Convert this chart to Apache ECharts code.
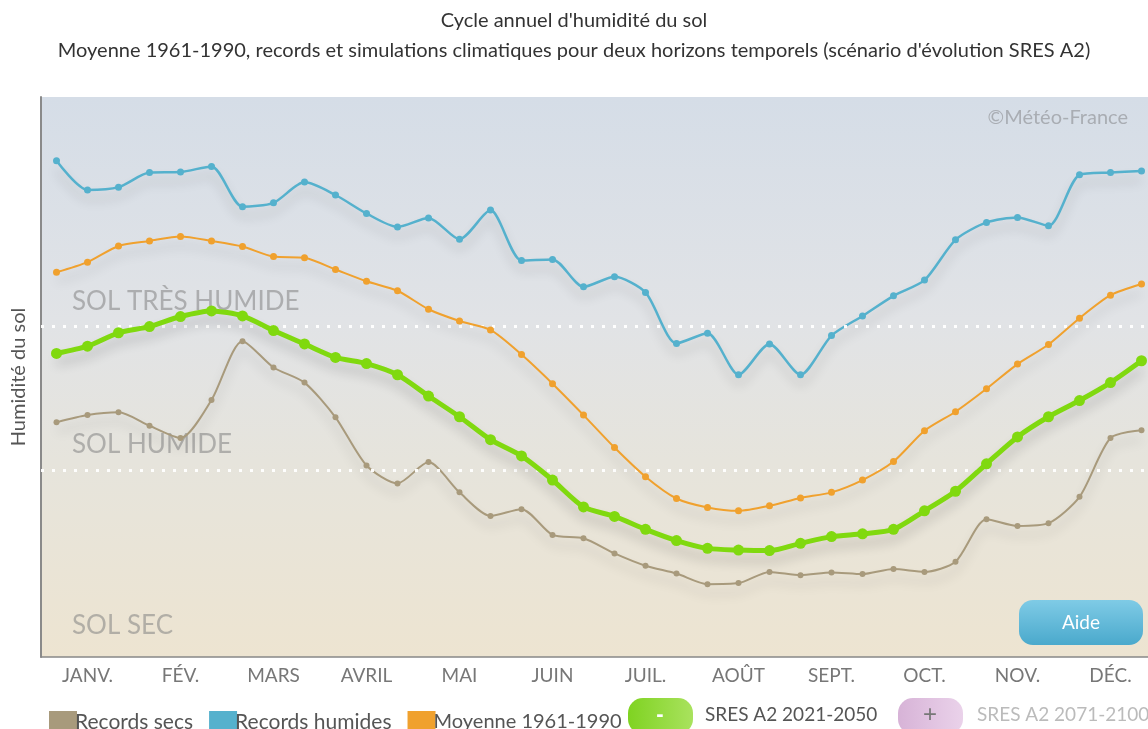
<!DOCTYPE html>
<html>
<head>
<meta charset="utf-8">
<script src="https://cdn.jsdelivr.net/npm/echarts@6/dist/echarts.min.js"></script>
<style>
  html, body { margin: 0; padding: 0; background: #fff; }
  #chart { width: 1148px; height: 729px; }
</style>
</head>
<body>
<div id="chart"></div>
<script>
// mois (3 décades par mois)
const months = ["JANV.", "FÉV.", "MARS", "AVRIL", "MAI", "JUIN", "JUIL.", "AOÛT", "SEPT.", "OCT.", "NOV.", "DÉC."];
const decades = [];
months.forEach(m => { for (let d = 1; d <= 3; d++) decades.push(m + "|" + d); });

const recordsSecs = [41.9, 43.2, 43.7, 41.3, 39.1, 45.9, 56.4, 51.7, 49.0, 42.8, 34.2, 31.0,
  34.8, 29.4, 25.2, 26.4, 21.8, 21.2, 18.5, 16.3, 14.9, 13.0, 13.2, 15.2,
  14.6, 15.1, 14.8, 15.7, 15.2, 17.0, 24.6, 23.4, 23.9, 28.6, 39.1, 40.5];
const recordsHumides = [88.6, 83.4, 83.9, 86.5, 86.6, 87.6, 80.4, 81.1, 84.8, 82.5, 79.2, 76.8,
  78.4, 74.6, 79.8, 70.8, 71.0, 66.1, 67.9, 65.1, 56.0, 57.8, 50.4, 55.9,
  50.4, 57.4, 60.9, 64.5, 67.3, 74.5, 77.6, 78.5, 77.0, 86.1, 86.5, 86.8];
const moyenne = [68.7, 70.5, 73.4, 74.3, 75.1, 74.3, 73.3, 71.5, 71.3, 69.2, 67.1, 65.4,
  62.1, 60.0, 58.4, 54.0, 48.8, 43.2, 37.4, 32.2, 28.3, 26.7, 26.1, 27.0,
  28.4, 29.4, 31.6, 34.9, 40.4, 43.8, 47.9, 52.3, 55.8, 60.5, 64.6, 66.6];
const sres2050 = [54.2, 55.5, 57.9, 59.0, 60.8, 61.8, 60.9, 58.3, 55.9, 53.5, 52.4, 50.4,
  46.6, 42.9, 38.8, 35.9, 31.6, 26.8, 25.1, 22.8, 20.8, 19.4, 19.1, 19.0,
  20.3, 21.5, 22.0, 22.8, 26.1, 29.6, 34.5, 39.3, 42.9, 45.8, 49.0, 52.9];
// seuils : sol très humide / sol humide
const seuils = [59.1, 33.4];

const chart = echarts.init(document.getElementById("chart"));

const shadow = {
  shadowColor: "rgba(0,0,0,0.2)",
  shadowBlur: 12,
  shadowOffsetY: 9
};

function lineSerie(name, data, color, width, symbolSize, z) {
  return {
    name: name,
    type: "line",
    data: data,
    smooth: 0.25,
    z: z,
    symbol: "circle",
    symbolSize: symbolSize,
    itemStyle: { color: color },
    lineStyle: Object.assign({ color: color, width: width }, shadow),
    emphasis: { disabled: true }
  };
}

const font = "Lato, 'Open Sans', sans-serif";
const soft = "rgba(130,130,130,0.55)";

const secs = lineSerie("Records secs", recordsSecs, "#a89a7c", 2, 6, 3);
secs.markLine = {
  silent: true,
  symbol: "none",
  label: { show: false },
  lineStyle: { color: "rgba(255,255,255,0.95)", width: 3, type: [3, 8], shadowBlur: 0 },
  data: seuils.map(v => ({ yAxis: v }))
};

const option = {
  animation: false,
  textStyle: { fontFamily: font },
  title: {
    text: "Cycle annuel d'humidité du sol",
    subtext: "Moyenne 1961-1990, records et simulations climatiques pour deux horizons temporels (scénario d'évolution SRES A2)",
    left: "center",
    top: 6,
    itemGap: 10,
    textStyle: { fontSize: 20, fontWeight: "normal", color: "#333", fontFamily: font },
    subtextStyle: { fontSize: 20, color: "#333", fontFamily: font }
  },
  legend: {
    data: [
      { name: "Records secs" },
      { name: "Records humides" },
      { name: "Moyenne 1961-1990", textStyle: { fontSize: 20 } }
    ],
    left: 44,
    top: 706,
    icon: "rect",
    itemWidth: 28,
    itemHeight: 22,
    itemGap: 16,
    textStyle: { fontSize: 21, color: "#555", padding: [0, 0, 0, -7] }
  },
  grid: {
    left: 41,
    top: 97,
    width: 1116,
    height: 560,
    outerBoundsMode: "none",
    show: true,
    borderWidth: 0,
    backgroundColor: {
      type: "linear", x: 0, y: 0, x2: 0, y2: 1,
      colorStops: [
        { offset: 0, color: "#d5dde7" },
        { offset: 0.4, color: "#e1e3e6" },
        { offset: 0.65, color: "#e6e4dc" },
        { offset: 1, color: "#ede4d1" }
      ]
    }
  },
  xAxis: {
    type: "category",
    data: decades,
    boundaryGap: true,
    axisLine: { lineStyle: { color: "#888", width: 1.5 } },
    axisTick: {
      length: 9,
      interval: i => i % 3 === 0,
      lineStyle: { color: "#777", width: 1.5 }
    },
    axisLabel: {
      interval: i => i % 3 === 1,
      formatter: v => v.split("|")[0],
      fontSize: 19,
      color: "#777",
      margin: 9
    },
    splitLine: { show: false }
  },
  yAxis: {
    type: "value",
    min: 0,
    max: 100,
    name: "Humidité du sol",
    nameLocation: "middle",
    nameGap: 12,
    nameTextStyle: { fontSize: 20, color: "#555" },
    axisLine: { show: true, lineStyle: { color: "#8a8a8a", width: 2 } },
    axisTick: { show: false },
    axisLabel: { show: false },
    splitLine: { show: false }
  },
  graphic: [
    { type: "text", z: 1, left: 72, top: 289, style: { text: "SOL TRÈS HUMIDE", fontSize: 26, fill: soft, fontFamily: font } },
    { type: "text", z: 1, left: 72, top: 432, style: { text: "SOL HUMIDE", fontSize: 26, fill: soft, fontFamily: font } },
    { type: "text", z: 1, left: 72, top: 613, style: { text: "SOL SEC", fontSize: 26, fill: soft, fontFamily: font } },
    { type: "text", z: 1, right: 20, top: 108, style: { text: "©Météo-France", fontSize: 20, fill: "#a9adb3", fontFamily: font } },
    {
      type: "group", left: 1019, top: 600, z: 10,
      children: [
        { type: "rect", shape: { x: 0, y: 0, width: 124, height: 45, r: 14 },
          style: { fill: { type: "linear", x: 0, y: 0, x2: 0, y2: 1, colorStops: [{ offset: 0, color: "#7fcbe6" }, { offset: 1, color: "#4aa9cc" }] } } },
        { type: "text", style: { text: "Aide", x: 62, y: 23, align: "center", verticalAlign: "middle", fontSize: 19, fill: "#fff", fontFamily: font } }
      ]
    },
    {
      type: "group", left: 628, top: 698, z: 10,
      children: [
        { type: "rect", shape: { x: 0, y: 0, width: 65, height: 36, r: 15 },
          style: { fill: { type: "linear", x: 0, y: 0, x2: 1, y2: 0, colorStops: [{ offset: 0, color: "#7fd321" }, { offset: 1, color: "#a9e25e" }] } } },
        { type: "text", style: { text: "-", x: 32, y: 17, align: "center", verticalAlign: "middle", fontSize: 22, fontWeight: "bold", fill: "#fff" } }
      ]
    },
    { type: "text", z: 10, left: 705, top: 705, style: { text: "SRES A2 2021-2050", fontSize: 19, fill: "#555", fontFamily: font } },
    {
      type: "group", left: 898, top: 698, z: 10,
      children: [
        { type: "rect", shape: { x: 0, y: 0, width: 65, height: 36, r: 15 },
          style: { fill: { type: "linear", x: 0, y: 0, x2: 1, y2: 0, colorStops: [{ offset: 0, color: "#d7b3d7" }, { offset: 1, color: "#ead2ea" }] } } },
        { type: "text", style: { text: "+", x: 32, y: 17, align: "center", verticalAlign: "middle", fontSize: 24, fill: "#777" } }
      ]
    },
    { type: "text", z: 10, left: 977, top: 705, style: { text: "SRES A2 2071-2100", fontSize: 19, fill: "#bbb", fontFamily: font } }
  ],
  series: [
    secs,
    lineSerie("Records humides", recordsHumides, "#55b1cd", 2.5, 7, 4),
    lineSerie("Moyenne 1961-1990", moyenne, "#f0a12e", 2, 7, 5),
    lineSerie("SRES A2 2021-2050", sres2050, "#80d90f", 5, 11, 6)
  ]
};

chart.setOption(option);
</script>
</body>
</html>
